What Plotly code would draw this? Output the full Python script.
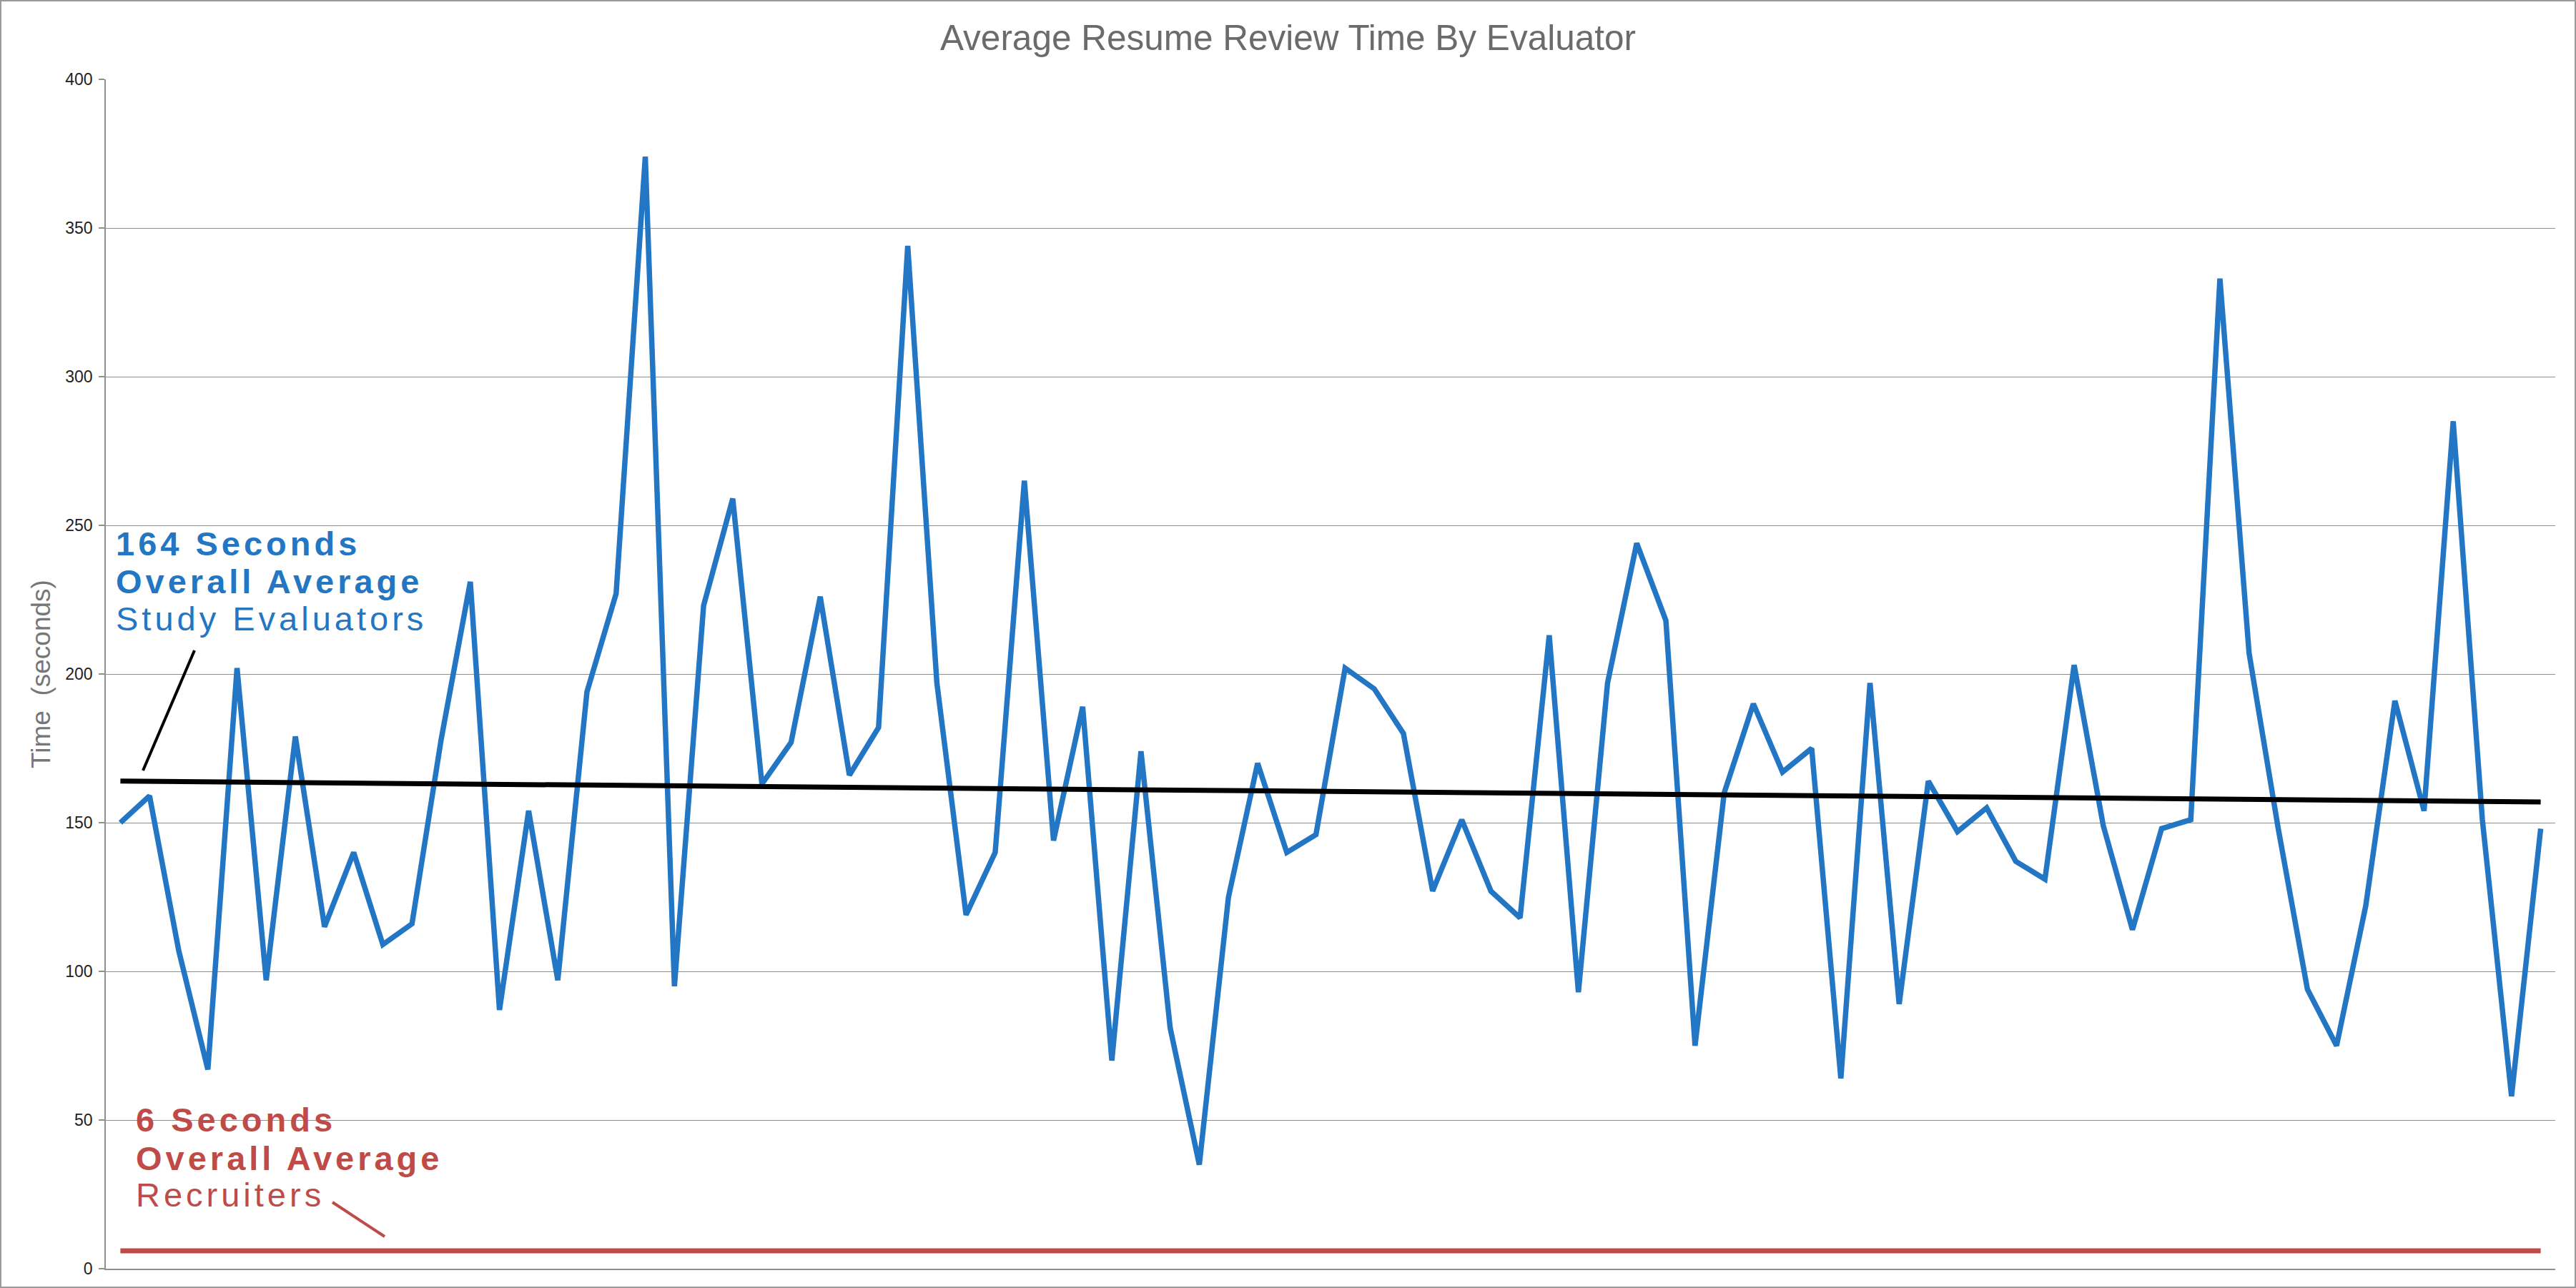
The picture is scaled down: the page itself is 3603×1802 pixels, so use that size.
import plotly.graph_objects as go

# ---- data -------------------------------------------------------------
evaluator = list(range(1, 85))
review_seconds = [
    150, 159, 107, 67, 202, 97, 179, 115, 140, 109,
    116, 178, 231, 87, 154, 97, 194, 227, 374, 95,
    223, 259, 163, 177, 226, 166, 182, 344, 197, 119,
    140, 265, 144, 189, 70, 174, 81, 35, 125, 170,
    140, 146, 202, 195, 180, 127, 151, 127, 118, 213,
    93, 197, 244, 218, 75, 160, 190, 167, 175, 64,
    197, 89, 164, 147, 155, 137, 131, 203, 149, 114,
    148, 151, 333, 207, 148, 94, 75, 122, 191, 154,
    285, 151, 58, 148,
]
trend_x = [evaluator[0], evaluator[-1]]
trend_seconds = [164, 157]          # study evaluators, linear trend
recruiter_seconds = [6, 6]          # recruiters overall average
y_ticks = [0, 50, 100, 150, 200, 250, 300, 350, 400]

# ---- page geometry -----------------------------------------------------
W, H = 3603, 1802
L, R, T, B = 148, 29, 111, 27
PW, PH = W - L - R, H - T - B


def px_x(px):
    return (px - L) / PW


def px_y(py):
    return 1 - (py - T) / PH


FONT = "Liberation Sans, Arial, Helvetica, sans-serif"
BLUE = "#2276C4"
RED = "#BF4B48"
GRID = "#8f8f8f"

fig = go.Figure()

fig.add_trace(go.Scatter(
    x=evaluator, y=review_seconds, mode="lines",
    line=dict(color=BLUE, width=7.5), showlegend=False, hoverinfo="skip",
))
fig.add_trace(go.Scatter(
    x=trend_x, y=trend_seconds, mode="lines",
    line=dict(color="#000000", width=7), showlegend=False, hoverinfo="skip",
))
fig.add_trace(go.Scatter(
    x=trend_x, y=recruiter_seconds, mode="lines",
    line=dict(color=RED, width=7), showlegend=False, hoverinfo="skip",
))


def label(text, px, py, color, bold):
    body = f"<b>{text}</b>" if bold else text
    fig.add_annotation(
        text=f'<span style="letter-spacing:5px">{body}</span>',
        xref="paper", yref="paper", x=px_x(px), y=px_y(py),
        xanchor="left", yanchor="middle", showarrow=False,
        font=dict(family=FONT, size=47, color=color),
    )


label("164 Seconds", 160, 760, BLUE, True)
label("Overall Average", 160, 813, BLUE, True)
label("Study Evaluators", 160, 865, BLUE, False)

label("6 Seconds", 188, 1566, RED, True)
label("Overall Average", 188, 1620, RED, True)
label("Recruiters", 188, 1671, RED, False)

# y-axis title
fig.add_annotation(
    text="Time\u00a0 (seconds)", textangle=-90,
    xref="paper", yref="paper", x=px_x(57), y=px_y(943),
    xanchor="center", yanchor="middle", showarrow=False,
    font=dict(family=FONT, size=37, color="#777777"),
)

# pointer strokes from the labels to their lines
fig.add_shape(type="line", xref="paper", yref="paper",
              x0=px_x(272), y0=px_y(910), x1=px_x(200), y1=px_y(1078),
              line=dict(color="#000000", width=4))
fig.add_shape(type="line", xref="paper", yref="paper",
              x0=px_x(465), y0=px_y(1682), x1=px_x(538), y1=px_y(1730),
              line=dict(color=RED, width=4))

# outer frame
fig.add_shape(type="rect", xref="paper", yref="paper",
              x0=px_x(1), y0=px_y(H - 1), x1=px_x(W - 1), y1=px_y(1),
              line=dict(color="#9a9a9a", width=2))

fig.update_layout(
    width=W, height=H,
    margin=dict(l=L, r=R, t=T, b=B),
    paper_bgcolor="white", plot_bgcolor="white",
    font=dict(family=FONT),
    title=dict(
        text="Average Resume Review Time By Evaluator",
        x=0.5, xref="container", xanchor="center",
        y=1 - 53 / H, yref="container", yanchor="middle",
        font=dict(family=FONT, size=49.5, color="#6b6b6b"),
    ),
    xaxis=dict(
        range=[evaluator[0] - 0.5, evaluator[-1] + 0.5],
        showgrid=False, zeroline=False, showticklabels=False,
        showline=True, linecolor=GRID, linewidth=1.5, ticks="",
    ),
    yaxis=dict(
        range=[0, 400], tickvals=y_ticks,
        showgrid=True, gridcolor=GRID, gridwidth=1.2,
        zeroline=False, showline=True, linecolor=GRID, linewidth=1.5,
        ticks="outside", ticklen=8, tickcolor=GRID, tickwidth=1.5,
        tickfont=dict(family=FONT, size=23, color="#222222"),
        ticklabelstandoff=4,
    ),
)

fig.write_html("out.html")
